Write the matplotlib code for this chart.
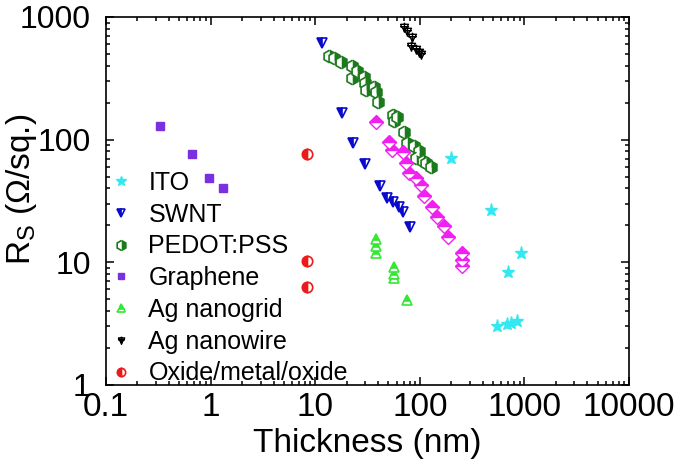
import matplotlib
matplotlib.use("Agg")
import matplotlib.pyplot as plt
from matplotlib.path import Path
import numpy as np

plt.rcParams['font.family'] = ['Liberation Sans', 'DejaVu Sans']
plt.rcParams['mathtext.default'] = 'regular'

# ---- data (thickness nm, sheet resistance ohm/sq) ----
ito_x = [200, 474, 936, 689, 550, 680, 750, 850]
ito_y = [71, 26.7, 11.9, 8.4, 3.05, 3.15, 3.2, 3.3]

swnt_x = [11.7, 18.1, 23.0, 29.9, 41.6, 48.5, 55.3, 63.1, 68.9, 80.3]
swnt_y = [612, 166, 94.5, 63.6, 42.0, 33.5, 31.0, 28.2, 25.7, 19.4]

pedot_x = [13.6, 15.2, 17.7, 22.5, 22.5, 25.1, 29.3, 29.9, 30.6, 36.5, 38.1, 39.8,
           55.3, 56.5, 60.4, 70.4, 75.2, 87.7, 97.8, 91.6, 107, 114, 127]
pedot_y = [479, 461, 428, 396, 316, 361, 322, 288, 252, 267, 243, 201,
           160, 143, 154, 116, 94.5, 89.3, 81.3, 70.5, 67.3, 64.8, 60.1]

graphene_x = [0.327, 0.659, 0.957, 1.30]
graphene_y = [128, 76.8, 48.8, 40.4]

nanogrid_x = [38.1, 38.1, 38.1, 56.5, 56.5, 56.5, 75.2]
nanogrid_y = [15.5, 13.6, 11.9, 9.1, 8.0, 7.4, 4.9]

nanowire_x = [70.4, 75.2, 83.9, 82.0, 91.6, 97.8, 102]
nanowire_y = [828, 768, 686, 578, 547, 517, 497]

omo_x = [8.4, 8.4, 8.4]
omo_y = [76.8, 10.2, 6.24]

other_x = [38.1, 50.7, 54.1, 68.9, 73.6, 78.6, 91.6, 102, 109, 130, 145, 169, 185, 251, 251, 251]
other_y = [140, 96.4, 82.8, 79.8, 64.8, 53.7, 48.8, 42.8, 34.8, 28.2, 23.4, 19.7, 16.0, 11.9, 10.4, 9.27]

xticks = [0.1, 1, 10, 100, 1000, 10000]
xticklabels = ['0.1', '1', '10', '100', '1000', '10000']
yticks = [1, 10, 100, 1000]
yticklabels = ['1', '10', '100', '1000']

# custom marker for Ag nanowire: down triangle with a cross
verts = [(-1, 0.8), (1, 0.8), (0, -1), (-1, 0.8),
         (0, 1.2), (0, -1.3), (-1.1, 0.2), (1.1, 0.2)]
codes = [Path.MOVETO, Path.LINETO, Path.LINETO, Path.LINETO,
         Path.MOVETO, Path.LINETO, Path.MOVETO, Path.LINETO]
nw_marker = Path(verts, codes)

fig = plt.figure(figsize=(6.75, 4.7), dpi=100)
ax = fig.add_axes([0.157, 0.181, 0.775, 0.783])

ms = 7.5
ax.plot(ito_x, ito_y, ls='none', marker='*', ms=ms + 2, color='#33E8F0',
        mec='#33E8F0', label='ITO')
ax.plot(swnt_x, swnt_y, ls='none', marker='v', ms=ms, color='#0A0ACC',
        fillstyle='left', markerfacecoloralt='white', mew=1.2, label='SWNT')
ax.plot(pedot_x, pedot_y, ls='none', marker='h', ms=ms + 1.5, color='#1C7A1C',
        fillstyle='right', markerfacecoloralt='white', mew=1.2, label='PEDOT:PSS')
ax.plot(graphene_x, graphene_y, ls='none', marker='s', ms=ms - 2, color='#7A30E0',
        label='Graphene')
ax.plot(nanogrid_x, nanogrid_y, ls='none', marker='^', ms=ms, color='#33E833',
        fillstyle='top', markerfacecoloralt='white', mew=1.2, label='Ag nanogrid')
ax.plot(nanowire_x, nanowire_y, ls='none', marker=nw_marker, ms=ms, color='black',
        mfc='none', mew=1.0, label='Ag nanowire')
ax.plot(omo_x, omo_y, ls='none', marker='o', ms=ms, color='#EE1A1A',
        fillstyle='left', markerfacecoloralt='white', mew=1.2, label='Oxide/metal/oxide')
ax.plot(other_x, other_y, ls='none', marker='D', ms=ms, color='#F020F0',
        fillstyle='top', markerfacecoloralt='white', mew=1.0)

ax.set_xscale('log')
ax.set_yscale('log')
ax.set_xlim(0.1, 10000)
ax.set_ylim(1, 1000)
ax.set_xticks(xticks)
ax.set_xticklabels(xticklabels)
ax.set_yticks(yticks)
ax.set_yticklabels(yticklabels)

ax.tick_params(which='both', direction='in', top=True, right=True, width=1.1)
ax.tick_params(which='major', length=6)
ax.tick_params(which='minor', length=3)
ax.tick_params(axis='x', pad=5, labelsize=24)
ax.tick_params(axis='y', pad=11, labelsize=23)
for s in ax.spines.values():
    s.set_linewidth(1.2)

ax.set_xlabel('Thickness (nm)', fontsize=24, labelpad=4)
ax.set_ylabel('R$_S$ (Ω/sq.)', fontsize=24)
ax.yaxis.set_label_coords(-0.128, 0.53)

leg = ax.legend(loc='lower left', bbox_to_anchor=(0.0, -0.008), frameon=False,
                fontsize=18, handlelength=1.0, handletextpad=0.6,
                labelspacing=0.31, borderaxespad=0.0, borderpad=0.1,
                markerscale=0.8)

fig.savefig('out.png', dpi=100)
